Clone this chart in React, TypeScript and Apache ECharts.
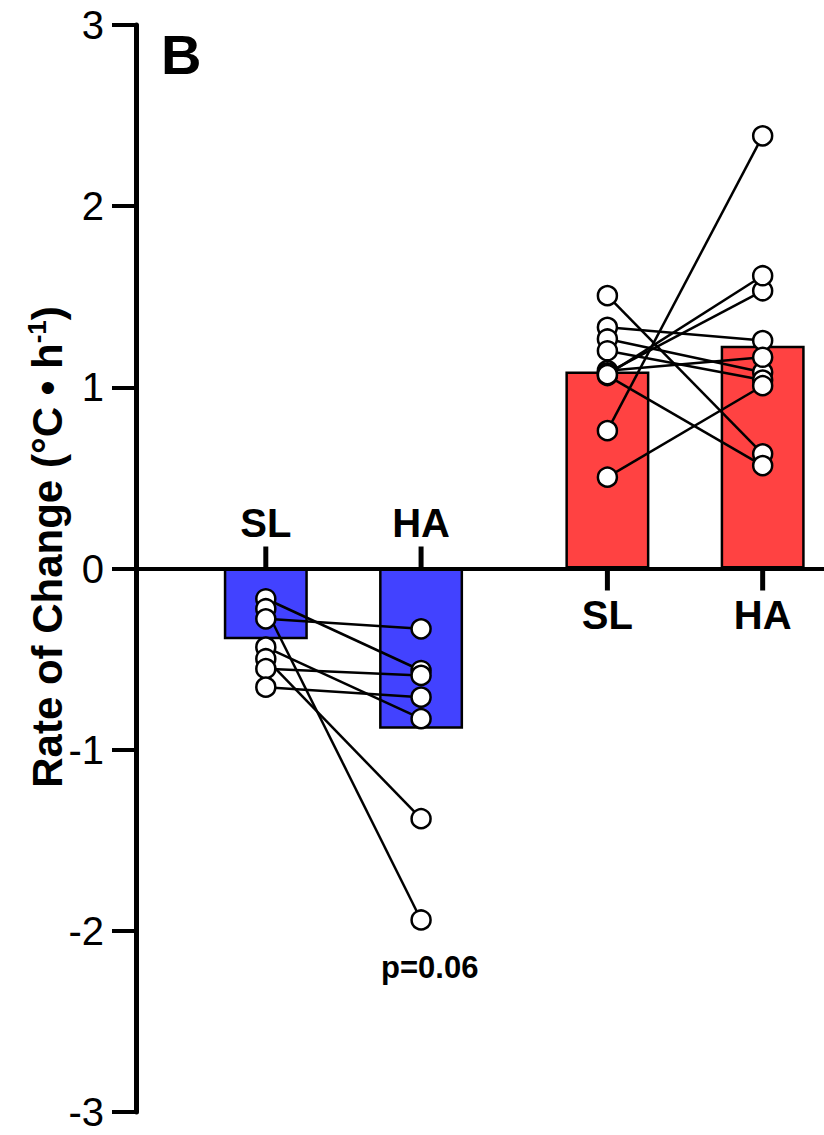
import React, { useEffect, useRef } from "react";
import * as echarts from "echarts";

// ---- data ----
const categories = ["SL", "HA", "SL", "HA"];
const categoryX = [1, 2, 3.2, 4.2];
const barColors = ["#4242FF", "#4242FF", "#FF4242", "#FF4242"];
const barMeans = [-0.39, -0.885, 1.088, 1.23];

// paired individual values (blue group: SL -> HA)
const blueSL = [-0.167, -0.222, -0.278, -0.434, -0.498, -0.553, -0.655];
const blueHA = [-0.563, -1.94, -0.333, -0.829, -1.381, -0.59, -0.71];

// paired individual values (red group: SL -> HA)
const redSL = [1.506, 1.331, 1.267, 1.202, 1.092, 1.08, 1.065, 1.07, 0.761, 0.504];
const redHA = [0.633, 1.258, 1.083, 1.04, 1.166, 1.533, 0.568, 1.616, 2.388, 1.009];

const yMin = -3;
const yMax = 3;
const yInterval = 1;

const FONT = "'Liberation Sans', Arial, Helvetica, sans-serif";

export default function App() {
  const ref = useRef<HTMLDivElement>(null);

  useEffect(() => {
    if (!ref.current) return;
    const chart = echarts.init(ref.current, undefined, { renderer: "svg" });

    const pairLines: any[] = [];
    const points: any[] = [];
    const addGroup = (a: number[], b: number[], xa: number, xb: number) => {
      a.forEach((v, i) => {
        pairLines.push({
          type: "line",
          data: [
            [xa, v],
            [xb, b[i]],
          ],
          symbol: "none",
          lineStyle: { color: "#000", width: 2.5, opacity: 1 },
          z: 3,
          silent: true,
        });
        points.push([xa, v]);
        points.push([xb, b[i]]);
      });
    };
    addGroup(blueSL, blueHA, categoryX[0], categoryX[1]);
    addGroup(redSL, redHA, categoryX[2], categoryX[3]);

    const tickSeries = (idx: number[], above: boolean) => ({
      type: "scatter",
      data: idx.map((i) => ({ name: categories[i], value: [categoryX[i], 0] })),
      symbol: "rect",
      symbolSize: [5, 22],
      symbolOffset: [0, above ? -11 : 11],
      itemStyle: { color: "#000", opacity: 1 },
      label: {
        show: true,
        position: above ? "top" : "bottom",
        distance: 4,
        formatter: "{b}",
        fontFamily: FONT,
        fontWeight: "bold",
        fontSize: 40,
        color: "#000",
      },
      z: 6,
      silent: true,
    });

    chart.setOption({
      animation: false,
      grid: { left: 136, right: 0, top: 25, bottom: 23, containLabel: false },
      xAxis: {
        type: "value",
        min: 0.164,
        max: 4.595,
        axisLine: { show: true, onZero: true, lineStyle: { color: "#000", width: 4 } },
        axisTick: { show: false },
        axisLabel: { show: false },
        splitLine: { show: false },
      },
      yAxis: {
        type: "value",
        min: yMin,
        max: yMax,
        interval: yInterval,
        axisLine: { show: true, onZero: false, lineStyle: { color: "#000", width: 5 } },
        axisTick: { show: true, length: 24, lineStyle: { color: "#000", width: 4 } },
        axisLabel: {
          fontSize: 40,
          color: "#000",
          fontFamily: FONT,
          margin: 32,
        },
        splitLine: { show: false },
      },
      series: [
        {
          type: "bar",
          data: barMeans.map((v, i) => ({
            value: [categoryX[i], v],
            itemStyle: { color: barColors[i] },
          })),
          barWidth: 84,
          itemStyle: { borderColor: "#000", borderWidth: 2.5, opacity: 1 },
          z: 2,
          silent: true,
        },
        ...pairLines,
        {
          type: "scatter",
          data: points,
          symbol: "circle",
          symbolSize: 19,
          itemStyle: { color: "#fff", borderColor: "#000", borderWidth: 2.5, opacity: 1 },
          z: 4,
          silent: true,
        },
        tickSeries([0, 1], true),
        tickSeries([2, 3], false),
      ],
      graphic: [
        {
          type: "text",
          left: 161,
          top: 26,
          style: {
            text: "B",
            fontFamily: FONT,
            fontWeight: "bold",
            fontSize: 56,
            fill: "#000",
          },
        },
        {
          type: "text",
          left: 381,
          top: 952,
          style: {
            text: "p=0.06",
            fontFamily: FONT,
            fontWeight: "bold",
            fontSize: 31,
            fill: "#000",
          },
        },
        {
          type: "text",
          x: 47,
          y: 547,
          rotation: Math.PI / 2,
          style: {
            text: "{n|Rate of Change (°C • h}{s|-1}{n|)}",
            align: "center",
            verticalAlign: "middle",
            fill: "#000",
            rich: {
              n: {
                fontFamily: FONT,
                fontWeight: "bold",
                fontSize: 42,
                fill: "#000",
                lineHeight: 46,
              },
              s: {
                fontFamily: FONT,
                fontWeight: "bold",
                fontSize: 26,
                fill: "#000",
                verticalAlign: "top",
                lineHeight: 46,
                padding: [0, 0, 14, 0],
              },
            },
          },
        },
      ],
    });

    return () => chart.dispose();
  }, []);

  return (
    <div
      ref={ref}
      style={{ position: "absolute", left: 0, top: 0, width: 824, height: 1135 }}
    />
  );
}
